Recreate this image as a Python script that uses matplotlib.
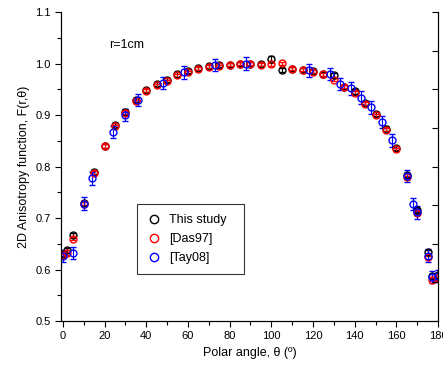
import matplotlib.pyplot as plt
from matplotlib.lines import Line2D
import numpy as np

plt.rcParams['font.family'] = ['Liberation Sans', 'DejaVu Sans']

# ===== DATA =====
# This study (black)
theta_this = [0, 2, 5, 10, 15, 20, 25, 30, 35, 40, 45, 50, 55, 60, 65, 70, 75, 80, 85, 90,
              95, 100, 105, 110, 115, 120, 125, 130, 135, 140, 145, 150, 155, 160, 165, 170,
              175, 177, 180]
F_this = [0.630, 0.638, 0.667, 0.730, 0.790, 0.840, 0.880, 0.907, 0.929, 0.948, 0.961, 0.968,
          0.979, 0.985, 0.991, 0.995, 0.998, 0.998, 1.000, 1.000, 0.999, 1.010, 0.988, 0.990,
          0.988, 0.985, 0.979, 0.977, 0.955, 0.946, 0.924, 0.903, 0.874, 0.836, 0.784, 0.716,
          0.634, 0.587, 0.590]
err_this = 0.004

# [Das97] (red)
theta_das = theta_this
F_das = [0.628, 0.632, 0.660, 0.728, 0.788, 0.840, 0.878, 0.905, 0.927, 0.947, 0.958, 0.966,
         0.977, 0.983, 0.990, 0.994, 0.995, 0.998, 1.000, 1.000, 0.998, 0.999, 1.001, 0.990,
         0.988, 0.984, 0.979, 0.969, 0.955, 0.943, 0.922, 0.900, 0.872, 0.834, 0.779, 0.710,
         0.624, 0.580, 0.583]
err_das = 0.003

# [Tay08] (blue)
theta_tay = [0, 5, 10, 14, 24, 30, 36, 48, 58, 73, 88, 118, 128, 133, 138, 143, 148, 153,
             158, 165, 168, 170, 175, 177, 180]
F_tay = [0.626, 0.632, 0.728, 0.777, 0.867, 0.900, 0.929, 0.962, 0.983, 0.998, 1.000, 0.987,
         0.980, 0.961, 0.952, 0.934, 0.915, 0.887, 0.851, 0.782, 0.727, 0.711, 0.627, 0.585,
         0.587]
err_tay = 0.012

labels = ['This study', '[Das97]', '[Tay08]']
colors = ['black', 'red', 'blue']

# ===== FIGURE =====
fig = plt.figure(figsize=(4.43, 3.69), dpi=100)
ax = fig.add_axes([0.138, 0.130, 0.851, 0.837])

series = [(theta_this, F_this, err_this), (theta_das, F_das, err_das),
          (theta_tay, F_tay, err_tay)]
for (t, f, e), c in zip(series, colors):
    ax.errorbar(t, f, yerr=e, fmt='o', mfc='none', mec=c, ecolor=c, ms=5, mew=1,
                elinewidth=0.8, capsize=2)

ax.set_xlim(-0.8, 180)
ax.set_ylim(0.5, 1.1)
ax.set_xticks(np.arange(0, 181, 20))
ax.set_xticks(np.arange(0, 181, 10), minor=True)
ax.set_yticks(np.arange(0.5, 1.101, 0.1))
ax.set_yticks(np.arange(0.5, 1.101, 0.05), minor=True)
ax.set_yticklabels(['0.5', '0.6', '0.7', '0.8', '0.9', '1.0', '1.1'])
ax.tick_params(axis='both', which='both', direction='out', labelsize=8, width=0.8)
ax.tick_params(axis='both', which='major', length=4)
ax.tick_params(axis='both', which='minor', length=3)
ax.spines['top'].set_visible(False)

# axe droit avec ses propres graduations (vers l'intérieur)
ax2 = ax.twinx()
ax2.set_ylim(0, 8)
ax2.set_yticks(range(9))
ax2.tick_params(axis='y', direction='in', length=4, width=0.8, labelright=False)
ax2.spines['top'].set_visible(False)

ax.set_xlabel('Polar angle, θ (º)', fontsize=9)
ax.set_ylabel('2D Anisotropy function, F(r,θ)', fontsize=9)

ax.text(22, 1.03, 'r=1cm', fontsize=9)

# legende: seulement les cercles
handles = [Line2D([], [], ls='none', marker='o', mfc='none', mec=c, ms=6, mew=1)
           for c in colors]
leg = ax.legend(handles, labels, loc='lower left',
                bbox_to_anchor=(0.2, 0.152, 0.285, 0.233), mode='expand', borderaxespad=0,
                fontsize=9, frameon=True, fancybox=False, edgecolor='black',
                handlelength=1.2, handletextpad=0.6, borderpad=0.8, labelspacing=0.55)
leg.get_frame().set_linewidth(0.8)

fig.savefig('out.png', dpi=100)
